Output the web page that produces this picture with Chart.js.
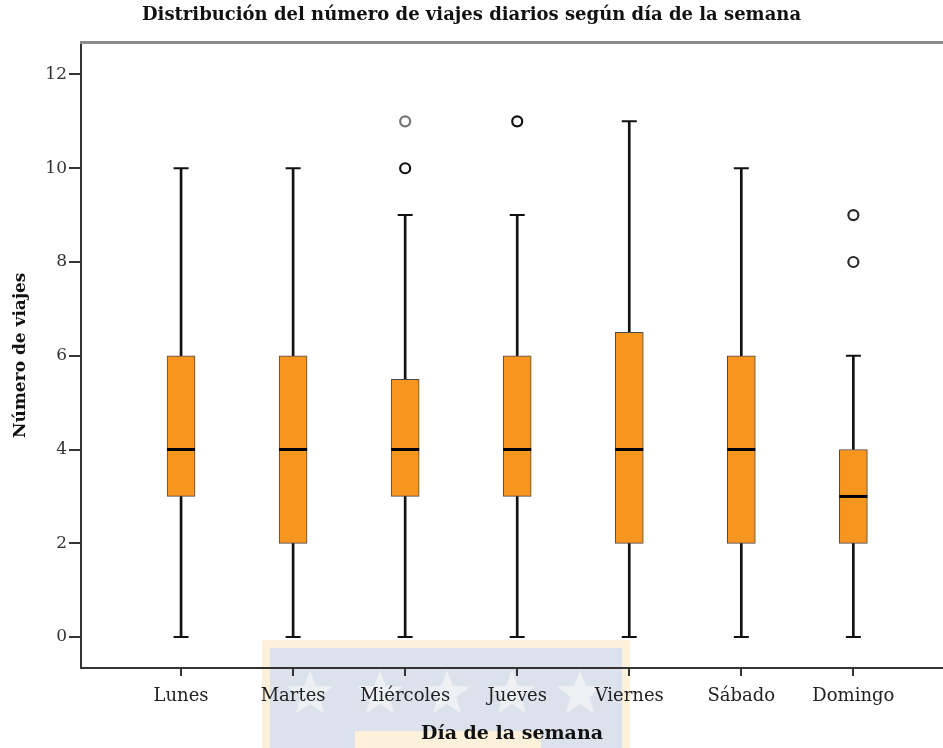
<!DOCTYPE html>
<html lang="es">
<head>
<meta charset="utf-8">
<title>Distribución del número de viajes diarios según día de la semana</title>
<script src="https://cdn.jsdelivr.net/npm/chart.js@4.4.1/dist/chart.umd.min.js"></script>
<style>
  html, body { margin: 0; padding: 0; background: #fff; overflow: hidden; }
  canvas { display: block; }
</style>
</head>
<body>
<canvas id="boxChart" width="943" height="748"></canvas>
<script>
// Datos (cinco números por día + atípicos)
const dias = ['Lunes', 'Martes', 'Miércoles', 'Jueves', 'Viernes', 'Sábado', 'Domingo'];
const minimos = [0, 0, 0, 0, 0, 0, 0];
const q1 = [3, 2, 3, 3, 2, 2, 2];
const medianas = [4, 4, 4, 4, 4, 4, 3];
const q3 = [6, 6, 5.5, 6, 6.5, 6, 4];
const maximos = [10, 10, 9, 9, 11, 10, 6];
const atipicos = [[], [], [10, 11], [11], [], [], [8, 9]];
const yTicks = [0, 2, 4, 6, 8, 10, 12];

const SERIF = "'DejaVu Serif', 'Liberation Serif', serif";
const ORANGE = '#f7961f';

const pos = (i) => i + 1; // posición de cada día en el eje x

// Puntos atípicos aplanados
const puntosAtipicos = [];
atipicos.forEach((lista, i) => {
    lista.forEach(v => puntosAtipicos.push({ x: pos(i), y: v }));
});
// los círculos repetidos se ven más oscuros en el original
const bordeAtipicos = ['#111', '#777', '#111', '#2a2a2a', '#2a2a2a'];

// Marca de agua de fondo (logo tenue bajo el eje)
const watermark = {
    id: 'watermark',
    beforeDraw(chart) {
        const c = chart.ctx;
        c.save();
        c.fillStyle = '#fdf1dc';
        c.fillRect(262, 640, 368, 108);
        c.fillStyle = '#dbe2eb';
        c.fillRect(270, 648, 352, 100);
        c.fillStyle = '#fdf1dc';
        c.fillRect(355, 731, 186, 17);
        c.fillStyle = '#eef0f3';
        [310, 380, 447, 512, 580].forEach(cx => {
            const cy = 694, R = 24, r = 10;
            c.beginPath();
            for (let k = 0; k < 10; k++) {
                const a = -Math.PI / 2 + k * Math.PI / 5;
                const rad = k % 2 === 0 ? R : r;
                c.lineTo(cx + rad * Math.cos(a), cy + rad * Math.sin(a));
            }
            c.closePath();
            c.fill();
        });
        c.restore();
    }
};

// Línea superior del marco
const frameTop = {
    id: 'frameTop',
    afterDraw(chart) {
        const { ctx, chartArea } = chart;
        ctx.save();
        ctx.strokeStyle = '#8c8c8c';
        ctx.lineWidth = 3;
        ctx.beginPath();
        ctx.moveTo(chartArea.left - 1, chartArea.top);
        ctx.lineTo(chartArea.right, chartArea.top);
        ctx.stroke();
        ctx.restore();
    }
};

function initChart() {
    const ctx = document.getElementById('boxChart').getContext('2d');

    const data = {
        datasets: [
            {
                // bigote inferior
                type: 'bar',
                data: dias.map((d, i) => ({ x: pos(i), y: [minimos[i], q1[i]] })),
                backgroundColor: '#111',
                barThickness: 2,
                grouped: false,
                order: 4
            },
            {
                // bigote superior
                type: 'bar',
                data: dias.map((d, i) => ({ x: pos(i), y: [q3[i], maximos[i]] })),
                backgroundColor: '#111',
                barThickness: 2,
                grouped: false,
                order: 4
            },
            {
                // caja Q1-Q3
                type: 'bar',
                data: dias.map((d, i) => ({ x: pos(i), y: [q1[i], q3[i]] })),
                backgroundColor: ORANGE,
                borderColor: '#4a4a4a',
                borderWidth: 1,
                borderSkipped: false,
                barThickness: 28,
                grouped: false,
                order: 3
            },
            {
                // mediana
                type: 'line',
                showLine: false,
                data: dias.map((d, i) => ({ x: pos(i), y: medianas[i] })),
                pointStyle: 'line',
                pointRadius: 14,
                pointBorderWidth: 3,
                pointBorderColor: '#000',
                order: 2
            },
            {
                // topes de los bigotes
                type: 'line',
                showLine: false,
                data: dias.flatMap((d, i) => [{ x: pos(i), y: minimos[i] }, { x: pos(i), y: maximos[i] }]),
                pointStyle: 'line',
                pointRadius: 7.5,
                pointBorderWidth: 2,
                pointBorderColor: '#111',
                order: 2
            },
            {
                // atípicos
                type: 'line',
                showLine: false,
                data: puntosAtipicos,
                pointStyle: 'circle',
                pointRadius: 5,
                pointBorderWidth: 2.2,
                pointBackgroundColor: '#fff',
                pointBorderColor: bordeAtipicos,
                order: 1
            }
        ]
    };

    const config = {
        type: 'bar',
        data: data,
        options: {
            responsive: false,
            animation: false,
            layout: { padding: 0, autoPadding: false },
            plugins: {
                legend: { display: false },
                tooltip: { enabled: false },
                title: {
                    display: true,
                    text: 'Distribución del número de viajes diarios según día de la semana',
                    color: '#111',
                    font: { family: SERIF, size: 18, weight: 'bold' },
                    padding: { top: 5, bottom: 16 }
                }
            },
            scales: {
                x: {
                    type: 'linear',
                    min: 0.107,
                    max: 7.80,
                    offset: false,
                    afterBuildTicks: (s) => { s.ticks = dias.map((d, i) => ({ value: pos(i) })); },
                    afterFit: (s) => { s.height = 80; },
                    grid: { drawOnChartArea: false, drawTicks: true, tickLength: 8, color: '#333', lineWidth: 2, offset: false },
                    border: { display: true, color: '#333', width: 2 },
                    ticks: {
                        color: '#222',
                        padding: 10,
                        autoSkip: false,
                        maxRotation: 0,
                        font: { family: SERIF, size: 18 },
                        callback: (v) => dias[v - 1] ?? ''
                    },
                    title: {
                        display: true,
                        text: 'Día de la semana',
                        color: '#111',
                        font: { family: SERIF, size: 19, weight: 'bold' },
                        padding: { top: 0, bottom: 3 }
                    }
                },
                y: {
                    type: 'linear',
                    min: -0.66,
                    max: 12.68,
                    afterBuildTicks: (s) => { s.ticks = yTicks.map(v => ({ value: v })); },
                    afterFit: (s) => { s.width = 81; },
                    grid: { drawOnChartArea: false, drawTicks: true, tickLength: 12, color: '#333', lineWidth: 2 },
                    border: { display: true, color: '#333', width: 2 },
                    ticks: {
                        color: '#333',
                        padding: 2,
                        font: { family: SERIF, size: 17 }
                    },
                    title: {
                        display: true,
                        text: 'Número de viajes',
                        color: '#111',
                        font: { family: SERIF, size: 17, weight: 'bold' },
                        padding: { top: 10, bottom: 0 }
                    }
                }
            }
        },
        plugins: [watermark, frameTop]
    };

    new Chart(ctx, config);
}

document.addEventListener('DOMContentLoaded', initChart);
</script>
</body>
</html>
